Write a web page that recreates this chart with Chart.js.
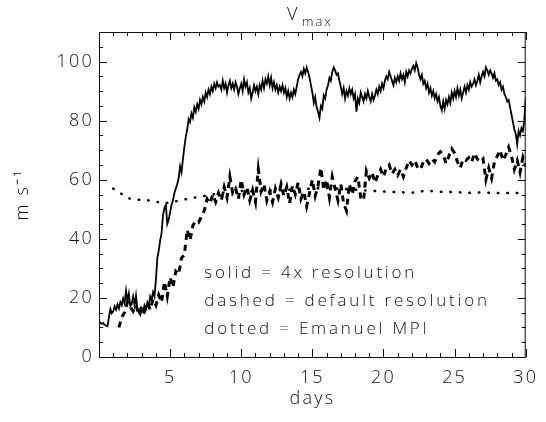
<!DOCTYPE html>
<html>
<head>
<meta charset="utf-8">
<script src="https://cdn.jsdelivr.net/npm/chart.js@4.4.1/dist/chart.umd.min.js"></script>
<style>
  html, body { margin: 0; padding: 0; background: #fff; }
  #wrap { width: 546px; height: 422px; }
</style>
</head>
<body>
<div id="wrap"><canvas id="vmaxChart"></canvas></div>
<script>
// solid = 4x resolution, every 0.1 day from day 0
const solidStart = 0;
const solidStep = 0.1;
const solidVmax = [
  12.0, 11.6, 11.2, 11.5, 10.9, 10.6, 10.4, 13.5, 16.2, 14.8,
  15.5, 17.2, 16.0, 17.8, 16.4, 18.6, 17.5, 19.8, 18.2, 22.5,
  19.0, 21.5, 17.2, 18.0, 20.5, 17.5, 20.8, 16.2, 15.0, 14.2,
  16.0, 15.2, 17.5, 16.4, 18.5, 17.0, 20.5, 19.2, 22.0, 20.6,
  26.0, 33.5, 36.0, 39.5, 42.0, 48.0, 50.5, 51.5, 45.0, 46.5,
  49.0, 51.5, 53.0, 55.5, 57.0, 58.5, 60.5, 64.5, 62.5, 67.0,
  71.0, 74.5, 77.0, 80.5, 79.5, 82.5, 81.0, 84.5, 83.0, 85.5,
  84.0, 87.0, 85.5, 88.0, 86.5, 89.5, 88.0, 90.5, 89.0, 91.5,
  90.0, 92.5, 91.0, 93.0, 91.5, 92.0, 90.5, 93.5, 91.0, 92.5,
  89.5, 92.0, 93.5, 91.0, 92.5, 90.5, 93.0, 91.5, 89.0, 91.0,
  92.5, 90.0, 94.0, 91.5, 93.0, 89.5, 91.0, 87.5, 89.5, 92.0,
  90.0, 91.5, 89.0, 92.0, 90.5, 93.5, 91.0, 94.0, 92.5, 95.0,
  92.0, 94.5, 91.0, 93.0, 90.5, 92.0, 89.5, 91.5, 90.0, 92.0,
  89.5, 91.0, 88.0, 90.0, 87.5, 89.5, 88.0, 90.5, 89.0, 91.5,
  94.0, 95.5, 96.5, 95.0, 97.5, 96.0, 98.0, 96.5, 94.5, 92.0,
  89.5, 86.0, 88.0, 84.5, 83.0, 81.0, 85.0, 84.0, 88.5, 87.5,
  90.5, 92.0, 94.5, 93.5, 96.5, 98.0, 97.0, 95.5, 96.0, 93.5,
  91.5, 89.0, 91.0, 87.5, 90.0, 88.5, 91.0, 89.0, 90.5, 87.5,
  89.0, 83.0, 87.5, 86.0, 89.5, 88.0, 86.5, 89.0, 87.5, 90.0,
  88.0, 86.5, 89.0, 87.0, 88.5, 90.5, 89.0, 91.5, 90.0, 92.5,
  91.0, 93.5, 95.0, 94.0, 96.5, 95.0, 93.5, 92.0, 94.5, 93.0,
  95.0, 93.5, 96.0, 94.0, 95.5, 93.0, 96.5, 95.0, 97.0, 96.0,
  97.5, 98.5, 97.0, 99.5, 98.0, 95.5, 94.0, 95.5, 92.5, 93.5,
  91.0, 92.5, 89.5, 91.0, 88.5, 90.0, 87.5, 89.0, 86.5, 88.0,
  85.0, 83.5, 86.5, 84.0, 87.0, 85.5, 88.0, 86.0, 89.5, 87.5,
  90.0, 88.0, 91.0, 88.5, 90.5, 87.5, 89.5, 91.5, 89.5, 92.0,
  90.5, 93.0, 91.5, 92.5, 94.0, 92.0, 93.5, 95.5, 93.0, 95.0,
  96.5, 95.0, 98.0, 97.0, 95.5, 97.0, 96.0, 94.5, 96.0, 93.5,
  94.0, 92.0, 93.0, 90.5, 91.5, 89.0, 88.0, 86.5, 87.0, 84.5,
  82.0, 79.5, 77.0, 75.5, 72.0, 76.5, 75.0, 77.5, 76.5, 80.0,
  88.0
];

// dashed = default resolution, every 0.2 day from day 1.4
const dashedStart = 1.4;
const dashedStep = 0.2;
const dashedVmax = [
  10.0, 13.5, 15.0, 18.5, 17.0, 15.5, 17.5, 14.5, 17.0, 15.5,
  18.5, 16.0, 19.5, 17.5, 21.0, 18.5, 25.5, 20.5, 27.0, 23.5,
  29.0, 28.0, 33.5, 34.5, 43.0, 39.5, 44.5, 46.0, 45.5, 47.5,
  49.5, 53.5, 52.0, 55.0, 52.5, 55.5, 53.0, 57.5, 54.0, 61.0,
  55.5, 57.0, 53.5, 60.0, 55.0, 57.5, 53.0, 56.5, 52.5, 63.5,
  56.0, 58.5, 53.0, 56.0, 52.5, 57.0, 54.0, 58.5, 54.5, 57.5,
  52.0, 58.0, 55.0, 59.0, 53.5, 56.0, 51.0, 55.5, 60.0, 54.5,
  58.0, 64.0, 56.5, 60.0, 54.0, 61.0, 57.0, 53.0, 58.5, 52.0,
  49.5, 58.5, 55.0, 59.5, 61.0, 54.0, 53.0, 63.0, 60.5, 62.5,
  59.0, 61.5, 63.5, 61.0, 64.0, 65.0, 62.0, 63.5, 61.5, 63.5,
  61.0, 64.0, 66.5, 65.0, 66.5, 64.0, 63.5, 66.0, 67.0, 65.5,
  67.0, 66.0, 68.5, 69.5, 68.5, 65.5, 68.0, 70.5, 69.0, 66.0,
  64.0, 67.0, 66.5, 67.5, 66.0, 69.0, 67.0, 66.0, 67.0, 60.0,
  64.0, 60.5, 66.0, 68.0, 70.0, 66.5, 68.5, 71.0, 68.0, 63.5,
  66.5, 62.5, 67.5, 64.5
];

// dotted = Emanuel MPI
const mpiDays = [1, 1.5, 2, 2.5, 3, 3.5, 4, 4.5, 5, 5.5, 6, 7, 8, 9, 10, 11, 12, 13, 14, 15,
  16, 17, 18, 19, 20, 21, 22, 23, 24, 25, 26, 27, 28, 29, 30];
const mpiVmax = [57.0, 55.5, 53.8, 53.3, 53.2, 53.0, 52.6, 52.0, 52.3, 52.8, 53.3, 54.2, 55.0,
  55.8, 56.2, 56.0, 56.3, 56.5, 56.8, 57.0, 57.2, 57.0, 56.6, 56.3, 56.0, 55.8, 55.6, 56.3,
  55.9, 55.8, 55.6, 55.7, 55.5, 55.5, 55.5];

const xTicks = [5, 10, 15, 20, 25, 30];
const yTicks = [0, 20, 40, 60, 80, 100];
const notes = ["solid = 4x resolution", "dashed = default resolution", "dotted = Emanuel MPI"];

const FONT = "'Open Sans', 'DejaVu Sans', sans-serif";
const INK = "#111";

function series(start, stepDays, vals) {
  return vals.map((v, i) => ({ x: Math.round((start + i * stepDays) * 10) / 10, y: v }));
}

// IDL style box: frame with inward ticks on all four sides, title and notes
const idlFrame = {
  id: "idlFrame",
  beforeDraw(chart) {
    chart.ctx.letterSpacing = "2.2px";
  },
  afterDraw(chart) {
    const { ctx, chartArea: a, scales: { x, y } } = chart;
    ctx.save();
    ctx.strokeStyle = INK;
    ctx.lineWidth = 1;
    ctx.strokeRect(a.left + 0.5, a.top + 0.5, a.right - a.left - 1, a.bottom - a.top);
    ctx.beginPath();
    for (let d = x.min; d <= x.max; d++) {
      const px = Math.round(x.getPixelForValue(d)) + 0.5;
      const len = d % 5 === 0 ? 8 : 4;
      ctx.moveTo(px, a.bottom); ctx.lineTo(px, a.bottom - len);
      ctx.moveTo(px, a.top); ctx.lineTo(px, a.top + len);
    }
    for (let v = y.min; v <= y.max; v += 5) {
      const py = Math.round(y.getPixelForValue(v)) + 0.5;
      const len = v % 20 === 0 ? 8 : 4;
      ctx.moveTo(a.left, py); ctx.lineTo(a.left + len, py);
      ctx.moveTo(a.right, py); ctx.lineTo(a.right - len, py);
    }
    ctx.stroke();

    ctx.fillStyle = INK;
    // title V_max
    ctx.textAlign = "left";
    ctx.textBaseline = "alphabetic";
    ctx.letterSpacing = "1px";
    ctx.font = "300 18px " + FONT;
    ctx.fillText("V", 287, 20);
    ctx.letterSpacing = "2px";
    ctx.font = "300 13px " + FONT;
    ctx.fillText("max", 302, 26);

    // notes inside the plot
    ctx.letterSpacing = "2.8px";
    ctx.font = "300 17px " + FONT;
    ctx.textBaseline = "middle";
    const nx = x.getPixelForValue(7.4);
    [28.4, 19.0, 9.5].forEach((v, i) => {
      ctx.fillText(notes[i], nx, y.getPixelForValue(v));
    });
    ctx.restore();
  }
};

const ctx = document.getElementById("vmaxChart").getContext("2d");
const chart = new Chart(ctx, {
  type: "line",
  data: {
    datasets: [
      {
        label: "solid = 4x resolution",
        data: series(solidStart, solidStep, solidVmax),
        borderColor: "#000",
        borderWidth: 1.8,
      },
      {
        label: "dashed = default resolution",
        data: series(dashedStart, dashedStep, dashedVmax),
        borderColor: "#000",
        borderWidth: 3,
        borderDash: [6, 5],
      },
      {
        label: "dotted = Emanuel MPI",
        data: mpiDays.map((d, i) => ({ x: d, y: mpiVmax[i] })),
        borderColor: "#000",
        borderWidth: 2.5,
        borderDash: [0.5, 9],
        borderCapStyle: "round",
      },
    ],
  },
  options: {
    responsive: true,
    maintainAspectRatio: false,
    animation: false,
    events: [],
    layout: { padding: { top: 32, right: 18, left: 0, bottom: 0 } },
    elements: { point: { radius: 0 }, line: { tension: 0 } },
    plugins: { legend: { display: false }, tooltip: { enabled: false } },
    scales: {
      x: {
        type: "linear",
        min: 0,
        max: 30,
        grid: { display: false, drawTicks: false },
        border: { display: false },
        afterBuildTicks: (s) => { s.ticks = xTicks.map((v) => ({ value: v })); },
        afterFit: (s) => { s.height = 65; },
        ticks: {
          color: INK,
          padding: 10,
          maxRotation: 0,
          font: { family: FONT, size: 18, weight: 300 },
        },
        title: {
          display: true,
          text: "days",
          color: INK,
          padding: { top: 0, bottom: 12 },
          font: { family: FONT, size: 18, weight: 300 },
        },
      },
      y: {
        type: "linear",
        min: 0,
        max: 110,
        grid: { display: false, drawTicks: false },
        border: { display: false },
        afterBuildTicks: (s) => { s.ticks = yTicks.map((v) => ({ value: v })); },
        afterFit: (s) => { s.width = 99; },
        ticks: {
          color: INK,
          padding: 5,
          font: { family: FONT, size: 18, weight: 300 },
        },
        title: {
          display: true,
          text: "m s\u207B\u00B9",
          color: INK,
          padding: { top: 12, bottom: 0 },
          font: { family: FONT, size: 18, weight: 300 },
        },
      },
    },
  },
  plugins: [idlFrame],
});
</script>
</body>
</html>
